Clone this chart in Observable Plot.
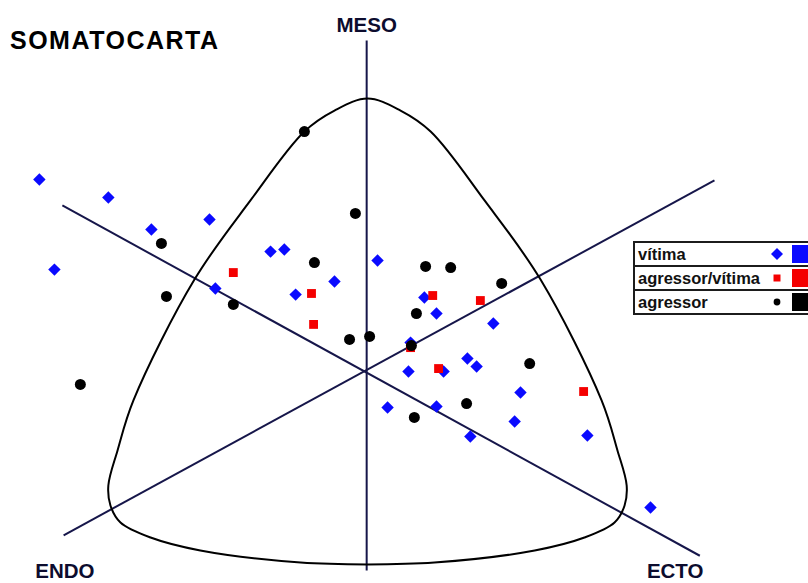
<!DOCTYPE html>
<html>
<head>
<meta charset="utf-8">
<script src="https://cdn.jsdelivr.net/npm/d3@7"></script>
<script src="https://cdn.jsdelivr.net/npm/@observablehq/plot@0.6"></script>
<style>
  html, body { margin: 0; padding: 0; background: #fff; overflow: hidden; }
  #wrap { position: relative; width: 808px; height: 583px; overflow: hidden; font-family: "Liberation Sans", Arial, sans-serif; }
  #title { position: absolute; left: 10px; top: 25px; font-size: 25px; font-weight: bold; letter-spacing: 1.5px; color: #000; line-height: 30px; }
  #legend { position: absolute; left: 633px; top: 241px; width: 200px; border-collapse: collapse; }
  #legend td { border: 2px solid #1c1c1c; height: 22px; padding: 0; font-size: 16.5px; font-weight: bold; color: #111; }
  #legend .row { position: relative; height: 22px; }
  #legend .lbl { position: absolute; left: 3px; top: 0px; line-height: 22px; }
  #legend svg { position: absolute; left: 0; top: 0; }
</style>
</head>
<body>
<div id="wrap">
  <div id="chart"></div>
  <div id="title">SOMATOCARTA</div>
  <table id="legend"></table>
</div>
<script>
// Somatochart coordinates: X = ecto - endo, Y = 2*meso - (endo + ecto)
const groups = ["vítima", "agressor/vítima", "agressor"];
const groupColors = ["#0a0aff", "#f40000", "#000000"];

const vitima = [
  [-7.85, 8.44], [-6.20, 7.65], [-5.17, 6.24], [-3.78, 6.68], [-7.49, 4.48],
  [-2.32, 5.27], [-1.99, 5.36], [0.24, 4.88], [-0.79, 3.96], [-3.64, 3.65],
  [-1.72, 3.38], [1.36, 3.25], [1.65, 2.55], [3.01, 2.11], [1.03, 1.27],
  [0.98, 0.0], [1.82, 0.0], [2.39, 0.57], [2.61, 0.22], [3.66, -0.92],
  [0.48, -1.58], [1.65, -1.54], [3.52, -2.20], [2.46, -2.86], [5.26, -2.81],
  [6.77, -5.98]
];
const agressorVitima = [
  [-3.21, 4.35], [-1.34, 3.43], [-1.29, 2.07], [1.56, 3.34],
  [2.70, 3.12], [1.03, 1.05], [1.70, 0.13], [5.17, -0.88]
];
const agressor = [
  [-1.51, 10.55], [-0.29, 6.95], [-4.93, 5.63], [-1.27, 4.79], [-4.81, 3.30],
  [-3.21, 2.95], [-0.43, 1.41], [0.05, 1.54], [-6.87, -0.57], [1.39, 4.62],
  [1.99, 4.57], [3.21, 3.87], [1.17, 2.55], [1.05, 1.14], [3.88, 0.35],
  [2.37, -1.41], [1.12, -2.02]
];

// Outline of the somatochart (closed curve)
const outline = [
  [0, 12.0], [-0.79, 11.47], [-1.51, 10.55], [-2.80, 7.52], [-4.14, 4.04],
  [-5.60, -1.27], [-5.98, -3.47], [-6.20, -5.01], [-6.15, -5.89], [-5.91, -6.64],
  [-5.19, -7.30], [-4.00, -7.87], [-1.60, -8.40], [0, -8.48],
  [1.60, -8.40], [4.00, -7.87], [5.19, -7.30], [5.91, -6.64], [6.15, -5.89],
  [6.20, -5.01], [5.98, -3.47], [5.60, -1.27], [4.14, 4.04], [2.80, 7.52],
  [1.51, 10.55], [0.79, 11.47]
];

// Axes of the chart: [x1, y1, x2, y2]
const axes = [
  [-0.02, 14.55, -0.02, -8.75],
  [-7.30, 7.30, 7.95, -8.10],
  [-7.27, -7.20, 8.30, 8.40]
];
const axisLabels = [
  {x: -0.02, y: 15.2, text: "MESO"},
  {x: -7.24, y: -8.80, text: "ENDO"},
  {x: 7.36, y: -8.80, text: "ECTO"}
];

const chart = Plot.plot({
  width: 808,
  height: 583,
  margin: 0,
  x: {domain: [-8.78, 10.55], axis: null},
  y: {domain: [-9.32, 16.31], axis: null},
  style: {background: "white"},
  marks: [
    Plot.link(axes, {x1: d => d[0], y1: d => d[1], x2: d => d[2], y2: d => d[3], stroke: "#16164a", strokeWidth: 2}),
    Plot.line(outline, {x: d => d[0], y: d => d[1], curve: "catmull-rom-closed", stroke: "#000", strokeWidth: 2}),
    Plot.dot(vitima, {x: d => d[0], y: d => d[1], symbol: "diamond2", r: 5.6, fill: groupColors[0]}),
    Plot.dot(agressorVitima, {x: d => d[0], y: d => d[1], symbol: "square", r: 5.0, fill: groupColors[1]}),
    Plot.dot(agressor, {x: d => d[0], y: d => d[1], symbol: "circle", r: 5.5, fill: groupColors[2]}),
    Plot.text(axisLabels, {x: "x", y: "y", text: "text", fontSize: 20.5, fontWeight: "bold", fill: "#0c0c2e", fontFamily: "Liberation Sans, Arial, sans-serif"})
  ]
});
document.getElementById("chart").appendChild(chart);

// Legend
const diamondPath = "M0,-6L6,0L0,6L-6,0Z";
const legendShapes = [diamondPath, "M-3.5,-3.5H3.5V3.5H-3.5Z", d3.symbol(d3.symbolCircle, 36)()];
const legend = document.getElementById("legend");
groups.forEach((g, i) => {
  const tr = document.createElement("tr");
  const td = document.createElement("td");
  const row = document.createElement("div");
  row.className = "row";
  const svg = d3.create("svg").attr("width", 196).attr("height", 22);
  svg.append("path")
    .attr("transform", "translate(142,11)")
    .attr("d", legendShapes[i])
    .attr("fill", groupColors[i]);
  svg.append("rect").attr("x", 157).attr("y", 2).attr("width", 20).attr("height", 18).attr("fill", groupColors[i]);
  row.appendChild(svg.node());
  const lbl = document.createElement("span");
  lbl.className = "lbl";
  lbl.textContent = g;
  row.appendChild(lbl);
  td.appendChild(row);
  tr.appendChild(td);
  legend.appendChild(tr);
});
</script>
</body>
</html>
